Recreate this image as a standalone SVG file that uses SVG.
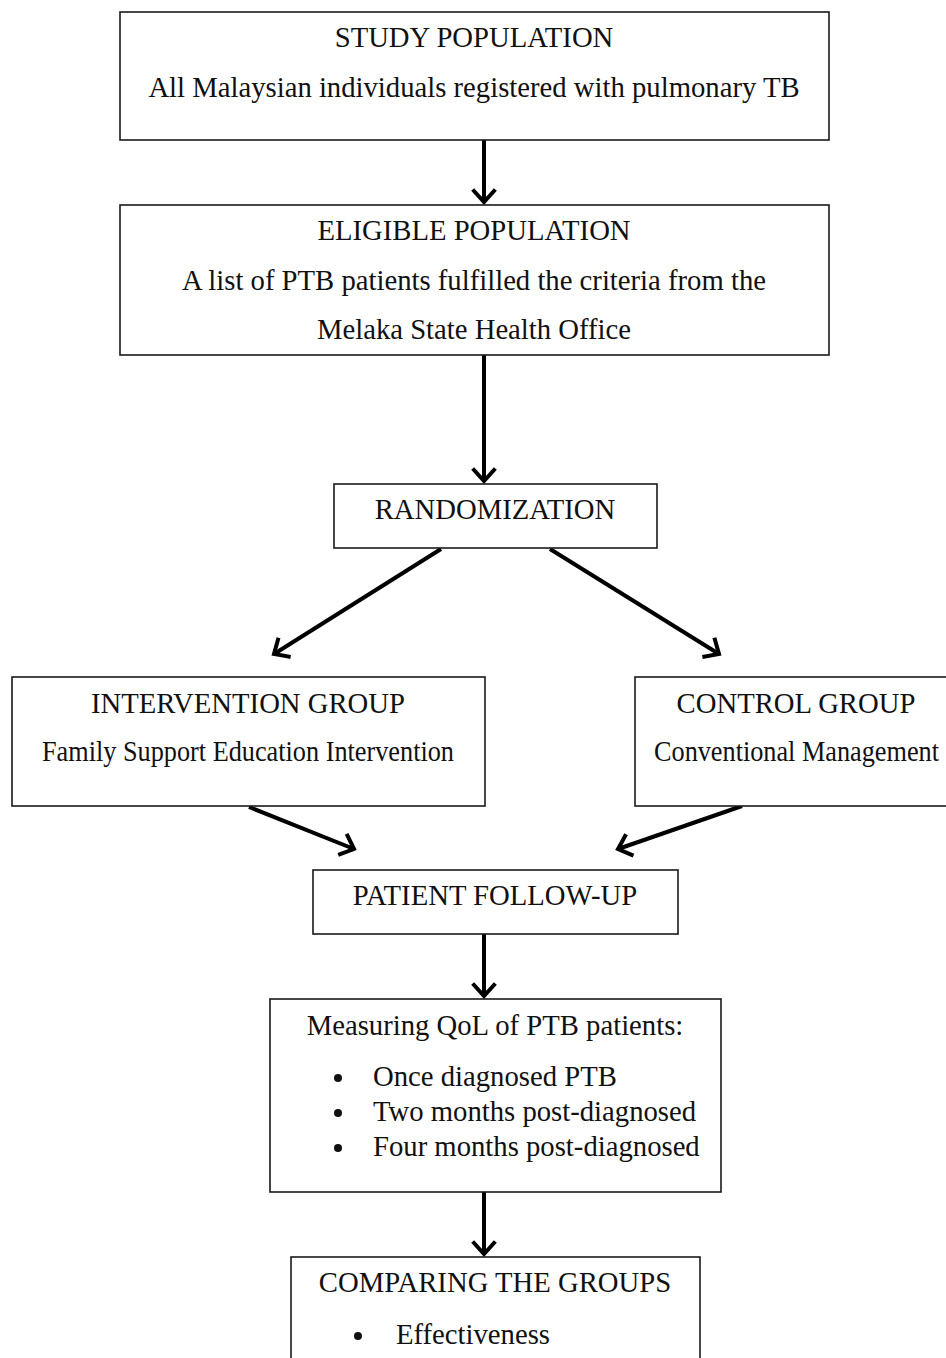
<svg xmlns="http://www.w3.org/2000/svg" width="946" height="1358" viewBox="0 0 946 1358">
<style>
.box{fill:#fff;stroke:#1a1a1a;stroke-width:1.6}
.t{font-family:"Liberation Serif","Times New Roman",serif;font-size:28.7px;fill:#111}
.c{text-anchor:middle}
.ln{fill:none;stroke:#000;stroke-width:4;marker-end:url(#ah)}
</style>
<defs>
<marker id="ah" markerUnits="userSpaceOnUse" markerWidth="30" markerHeight="30" viewBox="-15 -15 30 30" refX="0" refY="0" orient="auto">
<path d="M-11,-10 L0,0 L-11,10" fill="none" stroke="#000" stroke-width="4" stroke-linecap="square"/>
</marker>
</defs>
<rect width="946" height="1358" fill="#fff"/>
<g id="connectors">
<line class="ln" x1="484" y1="140" x2="484" y2="202"/>
<line class="ln" x1="484" y1="355" x2="484" y2="481"/>
<line class="ln" x1="441" y1="549" x2="274" y2="654"/>
<line class="ln" x1="550" y1="549" x2="719" y2="654"/>
<line class="ln" x1="249" y1="807" x2="354" y2="849"/>
<line class="ln" x1="742" y1="806" x2="618" y2="849"/>
<line class="ln" x1="484" y1="934" x2="484" y2="996"/>
<line class="ln" x1="484" y1="1192" x2="484" y2="1254"/>
</g>
<g id="study">
<rect class="box" x="120" y="12" width="709" height="128"/>
<text class="t c" x="474" y="47">STUDY POPULATION</text>
<text class="t c" x="474" y="97">All Malaysian individuals registered with pulmonary TB</text>
</g>
<g id="eligible">
<rect class="box" x="120" y="205" width="709" height="150"/>
<text class="t c" x="474" y="240">ELIGIBLE POPULATION</text>
<text class="t c" x="474" y="290">A list of PTB patients fulfilled the criteria from the</text>
<text class="t c" x="474" y="339">Melaka State Health Office</text>
</g>
<g id="randomization">
<rect class="box" x="334" y="484" width="323" height="64"/>
<text class="t c" x="495" y="519">RANDOMIZATION</text>
</g>
<g id="intervention">
<rect class="box" x="12" y="677" width="473" height="129"/>
<text class="t c" x="248" y="713">INTERVENTION GROUP</text>
<text class="t" x="42" y="761" textLength="412" lengthAdjust="spacingAndGlyphs">Family Support Education Intervention</text>
</g>
<g id="control">
<rect class="box" x="635" y="677" width="320" height="129"/>
<text class="t c" x="796" y="713">CONTROL GROUP</text>
<text class="t" x="654" y="761" textLength="285" lengthAdjust="spacingAndGlyphs">Conventional Management</text>
</g>
<g id="followup">
<rect class="box" x="313" y="870" width="365" height="64"/>
<text class="t c" x="495" y="905">PATIENT FOLLOW-UP</text>
</g>
<g id="measuring">
<rect class="box" x="270" y="999" width="451" height="193"/>
<text class="t c" x="495" y="1035">Measuring QoL of PTB patients:</text>
<circle cx="338" cy="1078" r="4" fill="#111"/>
<circle cx="338" cy="1113" r="4" fill="#111"/>
<circle cx="338" cy="1148" r="4" fill="#111"/>
<text class="t" x="373" y="1086">Once diagnosed PTB</text>
<text class="t" x="373" y="1121">Two months post-diagnosed</text>
<text class="t" x="373" y="1156">Four months post-diagnosed</text>
</g>
<g id="comparing">
<rect class="box" x="291" y="1257" width="409" height="120"/>
<text class="t c" x="495" y="1292">COMPARING THE GROUPS</text>
<circle cx="358" cy="1336" r="4" fill="#111"/>
<text class="t" x="396" y="1344">Effectiveness</text>
</g>
</svg>
